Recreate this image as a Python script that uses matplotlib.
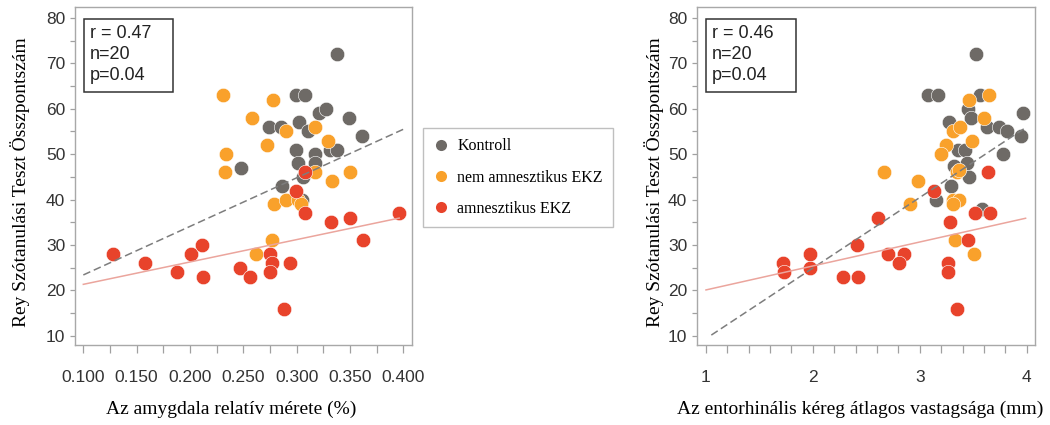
import matplotlib
matplotlib.use("Agg")
import matplotlib.pyplot as plt
from matplotlib.lines import Line2D
from matplotlib.patches import Rectangle
import numpy as np

# amygdala relative size (%) vs Rey score
amy_kontroll_x = [0.338, 0.299, 0.308, 0.321, 0.327, 0.302, 0.349, 0.274, 0.285, 0.311, 0.361,
                  0.299, 0.317, 0.331, 0.338, 0.248, 0.301, 0.317, 0.306, 0.286, 0.305]
amy_kontroll_y = [72, 63, 63, 59, 60, 57, 58, 56, 56, 55, 54, 51, 50, 51, 51, 47, 48, 48, 45, 43, 40]
amy_nem_x = [0.231, 0.278, 0.258, 0.290, 0.317, 0.272, 0.329, 0.234, 0.233, 0.350, 0.317,
             0.333, 0.279, 0.290, 0.301, 0.304, 0.277, 0.262]
amy_nem_y = [63, 62, 58, 55, 56, 52, 53, 50, 46, 46, 46, 44, 39, 40, 40, 39, 31, 28]
amy_amn_x = [0.308, 0.299, 0.308, 0.332, 0.350, 0.396, 0.362, 0.275, 0.277, 0.275, 0.294,
             0.247, 0.256, 0.288, 0.128, 0.158, 0.188, 0.201, 0.211, 0.212]
amy_amn_y = [46, 42, 37, 35, 36, 37, 31, 28, 26, 24, 26, 25, 23, 16, 28, 26, 24, 28, 30, 23]

# entorhinal cortex thickness (mm) vs Rey score
ent_kontroll_x = [3.53, 3.08, 3.17, 3.56, 3.45, 3.48, 3.27, 3.97, 3.63, 3.74, 3.82, 3.95,
                  3.36, 3.42, 3.78, 3.32, 3.44, 3.46, 3.29, 3.15, 3.58]
ent_kontroll_y = [72, 63, 63, 63, 60, 58, 57, 59, 56, 56, 55, 54, 51, 51, 50, 47.5, 48, 45, 43, 40, 38]
ent_nem_x = [3.65, 3.46, 3.60, 3.31, 3.38, 3.25, 3.49, 3.20, 2.67, 3.35, 3.37, 2.98,
             2.91, 3.31, 3.37, 3.31, 3.33, 3.51]
ent_nem_y = [63, 62, 58, 55, 56, 52, 53, 50, 46, 46, 46.5, 44, 39, 40, 40, 39, 31, 28]
ent_amn_x = [3.64, 3.13, 2.61, 3.52, 3.66, 3.28, 3.45, 2.41, 2.70, 2.85, 2.81, 3.26, 3.26,
             2.28, 2.42, 3.35, 1.72, 1.73, 1.97, 1.97]
ent_amn_y = [46, 42, 36, 37, 37, 35, 31, 30, 28, 28, 26, 26, 24, 23, 23, 16, 26, 24, 28, 25]

# fitted lines: intercept, slope, x-range
amy_fit_all = (12.7, 107.0, 0.100, 0.400)
amy_fit_amn = (16.4, 49.3, 0.100, 0.396)
ent_fit_all = (-6.16, 15.54, 1.05, 3.99)
ent_fit_amn = (14.82, 5.28, 1.00, 3.99)

stats_amy = ["r = 0.47", "n=20", "p=0.04"]
stats_ent = ["r = 0.46", "n=20", "p=0.04"]

groups = ["Kontroll", "nem amnesztikus EKZ", "amnesztikus EKZ"]
colors = ["#6e6a66", "#f9a12b", "#e8432b"]

plt.rcParams["font.family"] = ["Liberation Sans", "DejaVu Sans"]
serif = ["Liberation Serif", "DejaVu Serif"]

fig = plt.figure(figsize=(10.5, 4.25), dpi=100)
ax1 = fig.add_axes([75 / 1050, 1 - 345 / 425, 337 / 1050, 338 / 425])
ax2 = fig.add_axes([697 / 1050, 1 - 345 / 425, 338 / 1050, 338 / 425])


def draw_panel(ax, data, fits, stats, xticks, xlabels, xlim):
    for (xs, ys), c in zip(data, colors):
        ax.scatter(xs, ys, s=108, color=c, edgecolors="white", linewidths=0.4, zorder=2)
    for (b0, b1, xa, xb), c, ls in zip(fits, ["#7d7d7d", "#eba59d"],
                                      [(0, (5, 2.5)), "-"]):
        xx = np.array([xa, xb])
        ax.plot(xx, b0 + b1 * xx, color=c, linestyle=ls, linewidth=1.1, zorder=3)
    ax.set_xlim(*xlim)
    ax.set_ylim(7.97, 82.42)
    ax.set_xticks(xticks)
    ax.set_xticklabels(xlabels)
    yt = np.arange(10, 81, 5)
    ax.set_yticks(yt)
    ax.set_yticklabels([str(v) if v % 10 == 0 else "" for v in yt])
    for sp in ax.spines.values():
        sp.set_color("#a8a8a8")
        sp.set_linewidth(1.0)
    ax.tick_params(axis="x", length=6, width=0.9, color="#a0a0a0", pad=12,
                   labelsize=12.5, labelcolor="#333333")
    ax.tick_params(axis="y", length=3.5, width=0.9, color="#a0a0a0", pad=3.5,
                   labelsize=12.5, labelcolor="#333333")
    # statistics box
    ax.add_patch(Rectangle((0.0267, 0.750), 0.265, 0.215, transform=ax.transAxes,
                           facecolor="white", edgecolor="#333333", linewidth=1.1, zorder=4))
    for i, s in enumerate(stats):
        ax.text(0.045, 0.922 - i * 0.063, s, transform=ax.transAxes, fontsize=13,
                va="center", ha="left", color="#222222", zorder=5)


amy_ticks = np.arange(0.1, 0.4001, 0.025)
amy_labels = ["%.3f" % v if i % 2 == 0 else "" for i, v in enumerate(amy_ticks)]
draw_panel(ax1,
           [(amy_kontroll_x, amy_kontroll_y), (amy_nem_x, amy_nem_y), (amy_amn_x, amy_amn_y)],
           [amy_fit_all, amy_fit_amn], stats_amy, amy_ticks, amy_labels, (0.0922, 0.408))

ent_ticks = np.arange(1, 4.001, 0.2)
ent_labels = ["%d" % round(v) if abs(v - round(v)) < 1e-6 else "" for v in ent_ticks]
draw_panel(ax2,
           [(ent_kontroll_x, ent_kontroll_y), (ent_nem_x, ent_nem_y), (ent_amn_x, ent_amn_y)],
           [ent_fit_all, ent_fit_amn], stats_ent, ent_ticks, ent_labels, (0.916, 4.078))

ylab = "Rey Szótanulási Teszt Összpontszám"
fig.text(20 / 1050, 1 - 182 / 425, ylab, rotation=90, ha="center", va="center",
         family=serif, fontsize=14)
fig.text(654 / 1050, 1 - 182 / 425, ylab, rotation=90, ha="center", va="center",
         family=serif, fontsize=14)
fig.text(231 / 1050, 1 - 409 / 425, "Az amygdala relatív mérete (%)", ha="center",
         va="center", family=serif, fontsize=14)
fig.text(860 / 1050, 1 - 409 / 425, "Az entorhinális kéreg átlagos vastagsága (mm)",
         ha="center", va="center", family=serif, fontsize=14)

handles = [Line2D([], [], marker="o", linestyle="none", markersize=8,
                  markerfacecolor=c, markeredgecolor="none") for c in colors]
leg = fig.legend(handles, groups, loc="upper left", bbox_to_anchor=(423 / 1050, 1 - 128 / 425),
                 borderaxespad=0, frameon=True, fancybox=False, handlelength=1.0,
                 handletextpad=0.5, labelspacing=0.95, borderpad=0.65,
                 prop={"family": serif, "size": 11.5})
leg.get_frame().set_edgecolor("#b0b0b0")
leg.get_frame().set_linewidth(1.0)

fig.savefig("out.png", dpi=100)
